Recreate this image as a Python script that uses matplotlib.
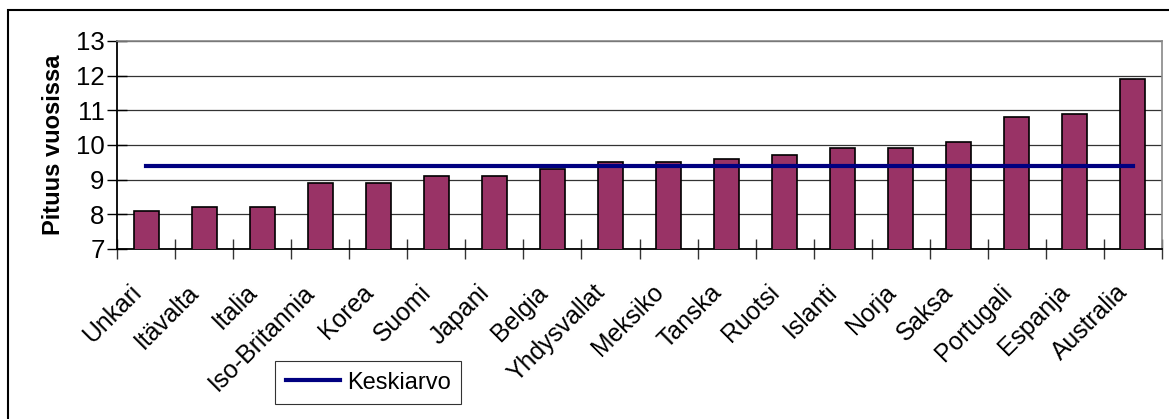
import numpy as np
import matplotlib.pyplot as plt
from matplotlib.patches import Rectangle

plt.rcParams['font.family'] = ['Liberation Sans', 'DejaVu Sans']

maat = ['Unkari', 'Itävalta', 'Italia', 'Iso-Britannia', 'Korea', 'Suomi',
        'Japani', 'Belgia', 'Yhdysvallat', 'Meksiko', 'Tanska', 'Ruotsi',
        'Islanti', 'Norja', 'Saksa', 'Portugali', 'Espanja', 'Australia']
pituus = [8.1, 8.2, 8.2, 8.9, 8.9, 9.1, 9.1, 9.3, 9.5, 9.5, 9.6, 9.7,
          9.9, 9.9, 10.1, 10.8, 10.9, 11.9]
keskiarvo = [9.4] * len(maat)

fig = plt.figure(figsize=(11.69, 4.19), dpi=100)
ax = fig.add_axes([117/1169, 1 - 249/419, (1162-117)/1169, (249-41)/419])

x = np.arange(len(maat))
ax.bar(x, pituus, width=0.43, bottom=0, color='#993366',
       edgecolor='black', linewidth=1.2, zorder=3)
ax.plot(x, keskiarvo, color='#000080', lw=3, label='Keskiarvo', zorder=4)

ax.set_xlim(-0.5, len(maat) - 0.5)
ax.set_ylim(7, 13)
ax.set_yticks(range(7, 14))
ax.tick_params(axis='y', direction='inout', length=14, labelsize=18.5, width=1, pad=2)
ax.yaxis.grid(True, color='#333333', lw=0.9, zorder=0)

# ticks between categories on x axis
ax.set_xticks(np.arange(-0.5, len(maat), 1), minor=False)
ax.set_xticklabels([])
ax.tick_params(axis='x', direction='inout', length=14, width=1, color='#333333')
for i, m in enumerate(maat):
    ax.text(i - 0.3, 6.1, m, rotation=45, ha='right', va='top',
            rotation_mode='anchor', fontsize=17.8, transform=ax.transData)

ax.set_ylabel('Pituus vuosissa', fontsize=17, fontweight='bold', labelpad=8)

for s in ['top', 'right']:
    ax.spines[s].set_color('#888888')
    ax.spines[s].set_linewidth(1.2)
ax.spines['left'].set_color('black')
ax.spines['bottom'].set_color('black')
ax.spines['left'].set_linewidth(1.3)
ax.spines['bottom'].set_linewidth(1.3)

leg = ax.legend(loc='upper left', bbox_to_anchor=(275/1169, 1 - 361/419),
                bbox_transform=fig.transFigure, fontsize=17, frameon=True,
                fancybox=False, edgecolor='black', handlelength=2.3,
                borderpad=0.45, handletextpad=0.3, borderaxespad=0)
leg.get_frame().set_linewidth(0.8)

# outer chart frame
fig.patches.append(Rectangle((8/1169, -0.1), 1.2, 1 - 10/419 + 0.1,
                             transform=fig.transFigure, fill=False,
                             edgecolor='black', lw=1.5))

fig.savefig('out.png', dpi=100)
